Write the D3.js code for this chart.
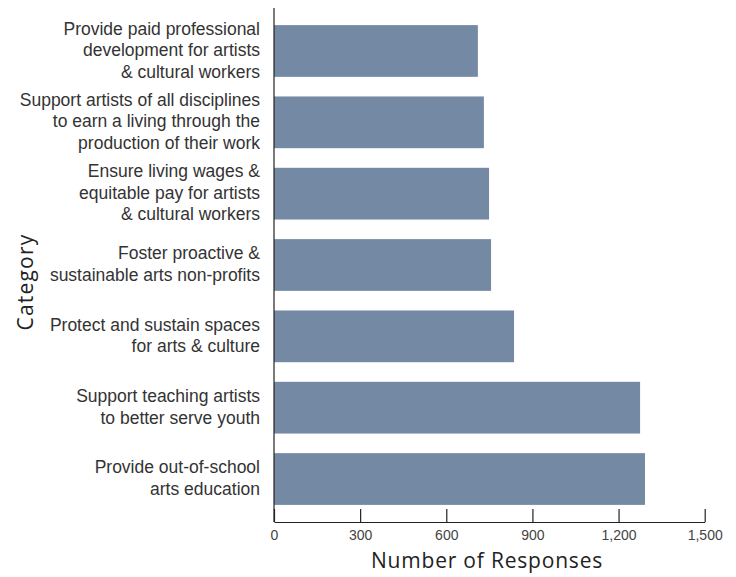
<!DOCTYPE html>
<html><head><meta charset="utf-8">
<script src="https://cdn.jsdelivr.net/npm/d3@7"></script>
<style>body{margin:0;background:#fff}</style>
</head><body>
<svg id="c" width="736" height="577"></svg>
<script>
const categories = [
  ["Provide paid professional","development for artists","& cultural workers"],
  ["Support artists of all disciplines","to earn a living through the","production of their work"],
  ["Ensure living wages &","equitable pay for artists","& cultural workers"],
  ["Foster proactive &","sustainable arts non-profits"],
  ["Protect and sustain spaces","for arts & culture"],
  ["Support teaching artists","to better serve youth"],
  ["Provide out-of-school","arts education"]
];
const values = [710, 731, 749, 756, 836, 1275, 1292];
const tickValues = [0, 300, 600, 900, 1200, 1500];

const svg = d3.select("#c");
const x = d3.scaleLinear().domain([0, 1500]).range([274, 704.7]);
const y = d3.scaleBand().domain(d3.range(categories.length)).range([8, 522]).paddingInner(0.275).paddingOuter(0.24);

svg.selectAll("rect.bar").data(values).join("rect")
  .attr("class","bar")
  .attr("x", x(0))
  .attr("y", (d,i)=>y(i))
  .attr("width", d=>x(d)-x(0))
  .attr("height", y.bandwidth())
  .attr("fill", "#7389a4");

// y axis line
svg.append("line").attr("x1",274).attr("x2",274).attr("y1",8).attr("y2",522)
  .attr("stroke","#222").attr("stroke-width",1.2);

// x axis
const xa = svg.append("g").attr("transform","translate(0,522)")
  .call(d3.axisBottom(x).tickValues(tickValues).tickSizeInner(-13).tickSizeOuter(0).tickFormat(d3.format(",")));
xa.select(".domain").attr("stroke","#222").attr("stroke-width",1.2);
xa.selectAll(".tick line").attr("stroke","#222").attr("stroke-width",1.2);
xa.selectAll(".tick text").attr("y",8).attr("fill","#444")
  .style("font-family","'Liberation Sans Narrow','Arial Narrow',sans-serif").style("font-size","14px");

// category labels
const lh = 21.5;
const lbl = svg.selectAll("text.cat").data(categories).join("text")
  .attr("class","cat")
  .attr("text-anchor","end")
  .attr("fill","#333")
  .style("font-family","'Liberation Sans Narrow','Arial Narrow',sans-serif")
  .style("font-size","17.5px");
lbl.each(function(lines,i){
  const cy = y(i) + y.bandwidth()/2 - 1;
  const t = d3.select(this);
  lines.forEach((ln,j)=>{
    t.append("tspan").attr("x",260)
      .attr("y", cy + (j - (lines.length-1)/2)*lh)
      .attr("dy","0.35em").text(ln);
  });
});

svg.append("text").attr("transform","translate(33,282) rotate(-90)")
  .attr("text-anchor","middle").attr("fill","#222")
  .style("font-family","'Open Sans',sans-serif").style("font-size","21px").style("font-weight","500")
  .style("letter-spacing","1.2px")
  .text("Category");

svg.append("text").attr("x",487).attr("y",568)
  .attr("text-anchor","middle").attr("fill","#222")
  .style("font-family","'Open Sans',sans-serif").style("font-size","21px").style("font-weight","500")
  .style("letter-spacing","0.8px")
  .text("Number of Responses");
</script>
</body></html>
